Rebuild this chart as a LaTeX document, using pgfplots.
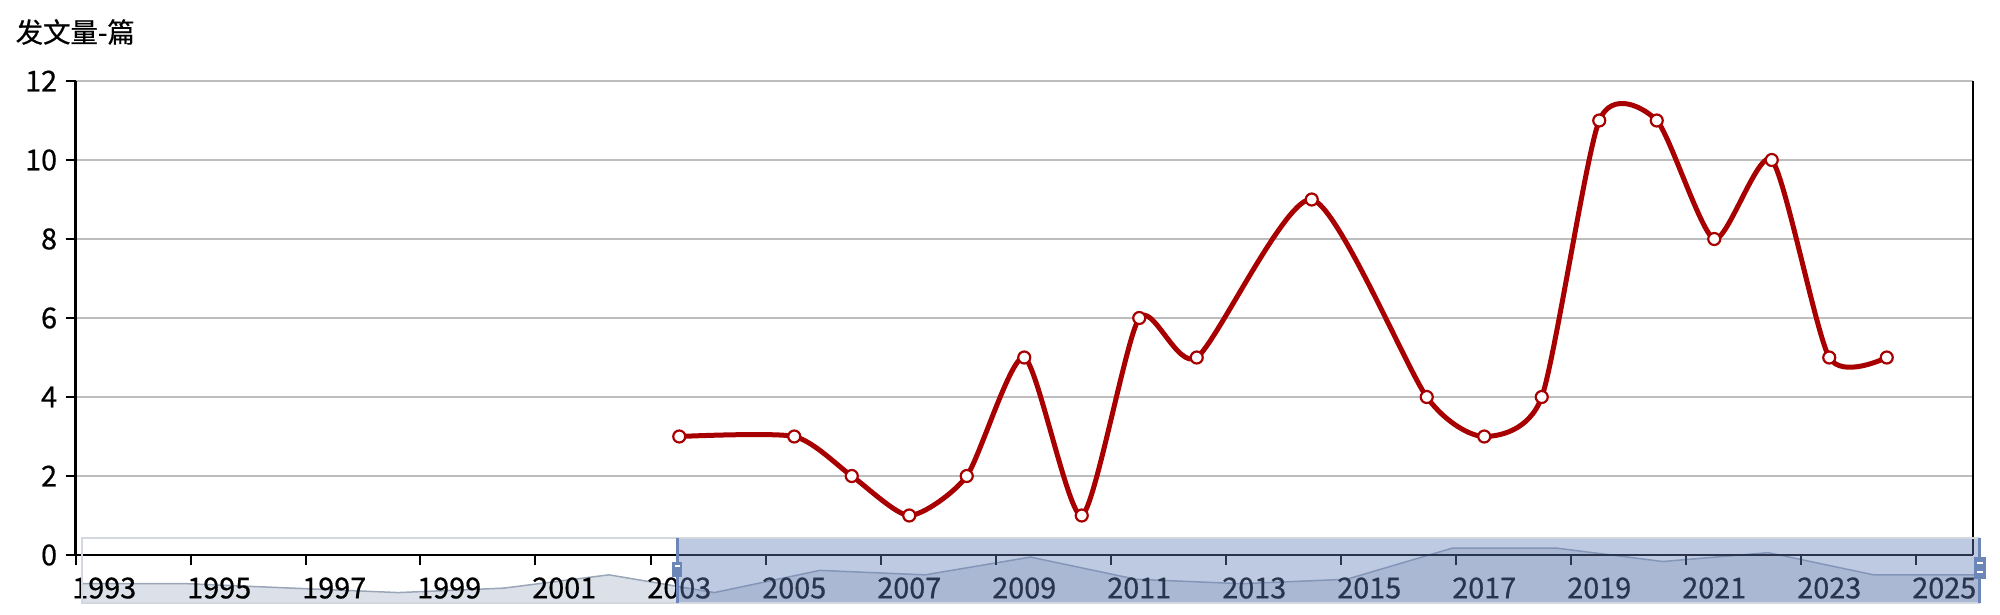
\documentclass[border=0pt]{standalone}
\usepackage{fontspec}
\setmainfont{Noto Sans CJK SC}[FakeBold=0.6]
\usepackage{pgfplots}
\pgfplotsset{compat=1.18}
\usepackage{pgfplotstable}
\definecolor{linered}{HTML}{A80000}
\definecolor{gridgray}{HTML}{BDBDBD}
\definecolor{shadowfill}{HTML}{DCE1E9}
\definecolor{shadowline}{HTML}{9AA6B8}
\definecolor{fillerblue}{HTML}{6580B8}
\definecolor{handleblue}{HTML}{6C86B8}
\definecolor{sliderborder}{HTML}{D3D8E0}

% publications per year
\pgfplotstableread{
year n
2003 3
2005 3
2006 2
2007 1
2008 2
2009 5
2010 1
2011 6
2012 5
2014 9
2016 4
2017 3
2018 4
2019 11
2020 11
2021 8
2022 10
2023 5
2024 5
}\pubs

\begin{document}
\begin{tikzpicture}
\useasboundingbox (0,0) rectangle (20,6.14);

% data zoom shadow (series drawn by index across the slider)
\begin{axis}[
    at={(0.82cm,0.11cm)}, anchor=south west,
    scale only axis, width=18.97cm, height=0.65cm,
    xmin=0, xmax=18, ymin=-1.35, ymax=13.3,
    hide axis, clip=false,
]
\fill[shadowfill] (axis cs:0,-1.35) rectangle (axis cs:18,0);
\addplot[draw=none, fill=shadowfill] table[x expr=\coordindex, y=n] {\pubs} \closedcycle;
\addplot[shadowline, line width=0.015cm] table[x expr=\coordindex, y=n] {\pubs};
\end{axis}

\begin{axis}[
    at={(0.755cm,0.59cm)}, anchor=south west,
    scale only axis, width=18.975cm, height=4.74cm,
    xmin=1992.5, xmax=2025.5, ymin=0, ymax=12,
    axis x line*=bottom, axis y line*=box,
    ytick pos=left,
    xtick={1992.5,1994.5,...,2024.5},
    xticklabels={1993,1995,1997,1999,2001,2003,2005,2007,2009,2011,2013,2015,2017,2019,2021,2023,2025},
    xticklabel style={xshift=0.2875cm},
    yticklabel style={xshift=0.04cm},
    ytick={0,2,...,12},
    tick align=outside, major tick length=0.1cm,
    ymajorgrids, grid style={draw=gridgray, line width=0.02cm},
    axis line style={black, line width=0.025cm},
    tick style={black, line width=0.02cm},
    ticklabel style={font=\fontsize{8.2}{9.5}\selectfont, text=black},
    /pgf/number format/assume math mode=true,
    clip=false,
]
\addplot[smooth, tension=0.4, color=linered, line width=0.05cm,
    mark=*, mark size=0.06cm,
    mark options={fill=white, draw=linered, line width=0.022cm}]
    table[x=year, y=n] {\pubs};
\end{axis}

\node[anchor=west, inner sep=0pt, font=\fontsize{7.8}{9}\selectfont] at (0.15,5.82) {发文量-篇};

% slider overlay and handles
\fill[fillerblue, opacity=0.42] (6.77,0.11) rectangle (19.79,0.76);
\draw[sliderborder, line width=0.02cm] (0.82,0.11) rectangle (19.79,0.76);
\draw[handleblue, line width=0.03cm] (6.77,0.11) -- (6.77,0.76);
\fill[handleblue] (6.72,0.37) rectangle (6.82,0.52);
\draw[white, line width=0.02cm] (6.745,0.485) -- (6.795,0.485);
\draw[handleblue, line width=0.03cm] (19.79,0.11) -- (19.79,0.76);
\fill[handleblue] (19.74,0.35) rectangle (19.86,0.57);
\draw[white, line width=0.02cm] (19.77,0.51) -- (19.83,0.51);
\draw[white, line width=0.02cm] (19.77,0.42) -- (19.83,0.42);
\end{tikzpicture}
\end{document}
